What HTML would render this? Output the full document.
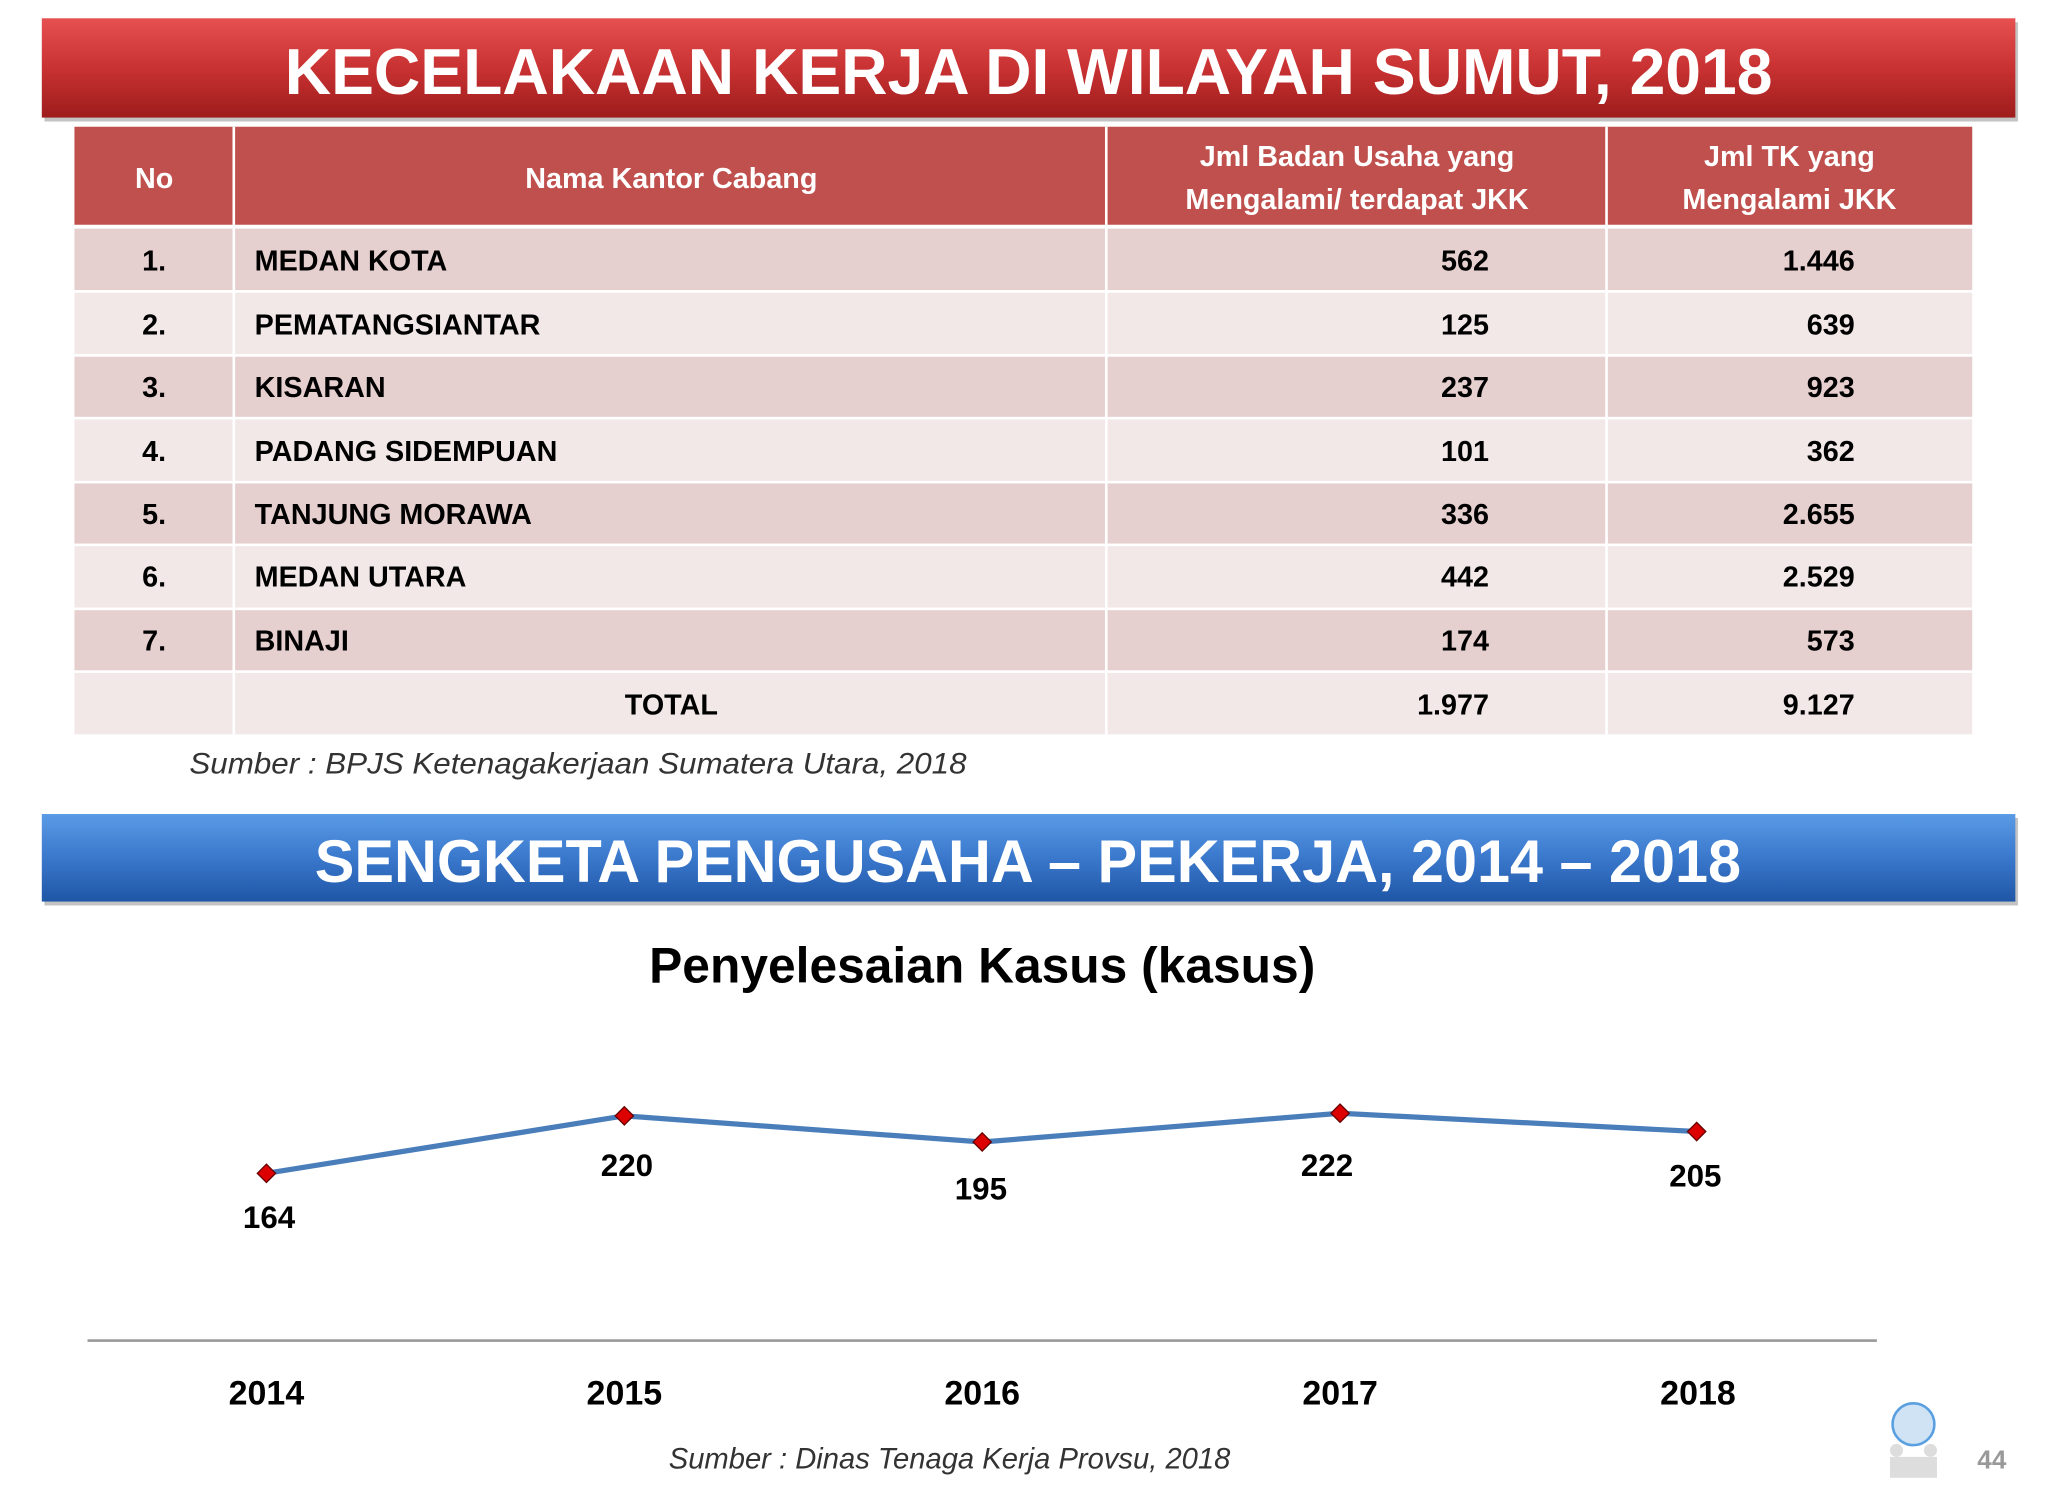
<!DOCTYPE html>
<html><head><meta charset="utf-8"><style>
html,body{margin:0;padding:0;background:#fff;width:2048px;height:1500px;overflow:hidden}
svg{display:block}
text{font-family:"Liberation Sans Narrow","Liberation Sans",sans-serif;font-weight:bold}
text.it{font-weight:normal;font-style:italic}
</style></head><body>
<svg width="2048" height="1500" viewBox="0 0 1568 1148" preserveAspectRatio="none" xmlns="http://www.w3.org/2000/svg">
<defs>
<linearGradient id="rg" x1="0" y1="0" x2="0" y2="1"><stop offset="0" stop-color="#e65050"/><stop offset="0.5" stop-color="#c93232"/><stop offset="1" stop-color="#9e1c1c"/></linearGradient>
<linearGradient id="bg" x1="0" y1="0" x2="0" y2="1"><stop offset="0" stop-color="#5a9be6"/><stop offset="0.5" stop-color="#3a78cc"/><stop offset="1" stop-color="#1f56a6"/></linearGradient>
</defs>
<rect x="34" y="17" width="1511" height="76" fill="#888" opacity="0.5"/>
<rect x="32" y="14" width="1511" height="76" fill="url(#rg)"/>
<text x="218" y="72" font-size="50" fill="#fff" textLength="1139" lengthAdjust="spacingAndGlyphs">KECELAKAAN KERJA DI WILAYAH SUMUT, 2018</text>

<rect x="57" y="97" width="1453" height="75" fill="#c0504d"/>
<g fill="#e6cfcf">
<rect x="57" y="175" width="1453" height="47"/><rect x="57" y="273" width="1453" height="46"/><rect x="57" y="370" width="1453" height="46"/><rect x="57" y="467" width="1453" height="46"/>
</g>
<g fill="#f2e8e8">
<rect x="57" y="224" width="1453" height="47"/><rect x="57" y="321" width="1453" height="47"/><rect x="57" y="418" width="1453" height="47"/><rect x="57" y="515" width="1453" height="47"/>
</g>
<g fill="#fff"><rect x="178" y="97" width="2" height="465"/><rect x="846" y="97" width="2" height="465"/><rect x="1229" y="97" width="2" height="465"/></g>
<g font-size="22" fill="#fff" text-anchor="middle">
<text x="118" y="144">No</text><text x="514" y="144">Nama Kantor Cabang</text>
<text x="1039" y="127">Jml Badan Usaha yang</text><text x="1039" y="160">Mengalami/ terdapat JKK</text>
<text x="1370" y="127">Jml TK yang</text><text x="1370" y="160">Mengalami JKK</text>
</g>
<g font-size="22" fill="#000">
<g text-anchor="middle"><text x="118" y="207">1.</text><text x="118" y="256">2.</text><text x="118" y="304">3.</text><text x="118" y="353">4.</text><text x="118" y="401">5.</text><text x="118" y="449">6.</text><text x="118" y="498">7.</text><text x="514" y="547">TOTAL</text></g>
<text x="195" y="207">MEDAN KOTA</text><text x="195" y="256">PEMATANGSIANTAR</text><text x="195" y="304">KISARAN</text><text x="195" y="353">PADANG SIDEMPUAN</text><text x="195" y="401">TANJUNG MORAWA</text><text x="195" y="449">MEDAN UTARA</text><text x="195" y="498">BINAJI</text>
<g text-anchor="end"><text x="1140" y="207">562</text><text x="1140" y="256">125</text><text x="1140" y="304">237</text><text x="1140" y="353">101</text><text x="1140" y="401">336</text><text x="1140" y="449">442</text><text x="1140" y="498">174</text><text x="1140" y="547">1.977</text>
<text x="1420" y="207">1.446</text><text x="1420" y="256">639</text><text x="1420" y="304">923</text><text x="1420" y="353">362</text><text x="1420" y="401">2.655</text><text x="1420" y="449">2.529</text><text x="1420" y="498">573</text><text x="1420" y="547">9.127</text></g>
</g>
<text class="it" x="145" y="592" font-size="23" fill="#333" textLength="595" lengthAdjust="spacingAndGlyphs">Sumber : BPJS Ketenagakerjaan Sumatera Utara, 2018</text>

<rect x="34" y="626" width="1511" height="67" fill="#888" opacity="0.5"/>
<rect x="32" y="623" width="1511" height="67" fill="url(#bg)"/>
<text x="241" y="675" font-size="46" fill="#fff" textLength="1092" lengthAdjust="spacingAndGlyphs">SENGKETA PENGUSAHA – PEKERJA, 2014 – 2018</text>

<text x="497" y="752" font-size="38" fill="#000" textLength="510" lengthAdjust="spacingAndGlyphs">Penyelesaian Kasus (kasus)</text>
<polyline points="204,898 478,854 752,874 1026,852 1299,866" fill="none" stroke="#4a7ebb" stroke-width="4"/>
<g fill="#d00" stroke="#600" stroke-width="1">
<path d="M204,891 L211,898 L204,905 L197,898Z"/><path d="M478,847 L485,854 L478,861 L471,854Z"/><path d="M752,867 L759,874 L752,881 L745,874Z"/><path d="M1026,845 L1033,852 L1026,859 L1019,852Z"/><path d="M1299,859 L1306,866 L1299,873 L1292,866Z"/>
</g>
<g font-size="24" fill="#000" text-anchor="middle">
<text x="206" y="940">164</text><text x="480" y="900">220</text><text x="751" y="918">195</text><text x="1016" y="900">222</text><text x="1298" y="908">205</text>
</g>
<rect x="67" y="1025" width="1370" height="2" fill="#999"/>
<g font-size="26" fill="#000" text-anchor="middle">
<text x="204" y="1075">2014</text><text x="478" y="1075">2015</text><text x="752" y="1075">2016</text><text x="1026" y="1075">2017</text><text x="1300" y="1075">2018</text>
</g>
<text class="it" x="512" y="1124" font-size="23" fill="#333" textLength="430" lengthAdjust="spacingAndGlyphs">Sumber : Dinas Tenaga Kerja Provsu, 2018</text>
<circle cx="1465" cy="1090" r="16" fill="#cfe3f5" stroke="#5aa0e0" stroke-width="2"/>
<g fill="#ddd"><circle cx="1452" cy="1110" r="5"/><circle cx="1478" cy="1110" r="5"/><rect x="1447" y="1115" width="36" height="16"/></g>
<text x="1525" y="1124" font-size="20" fill="#999" text-anchor="middle">44</text>
</svg>
</body></html>
